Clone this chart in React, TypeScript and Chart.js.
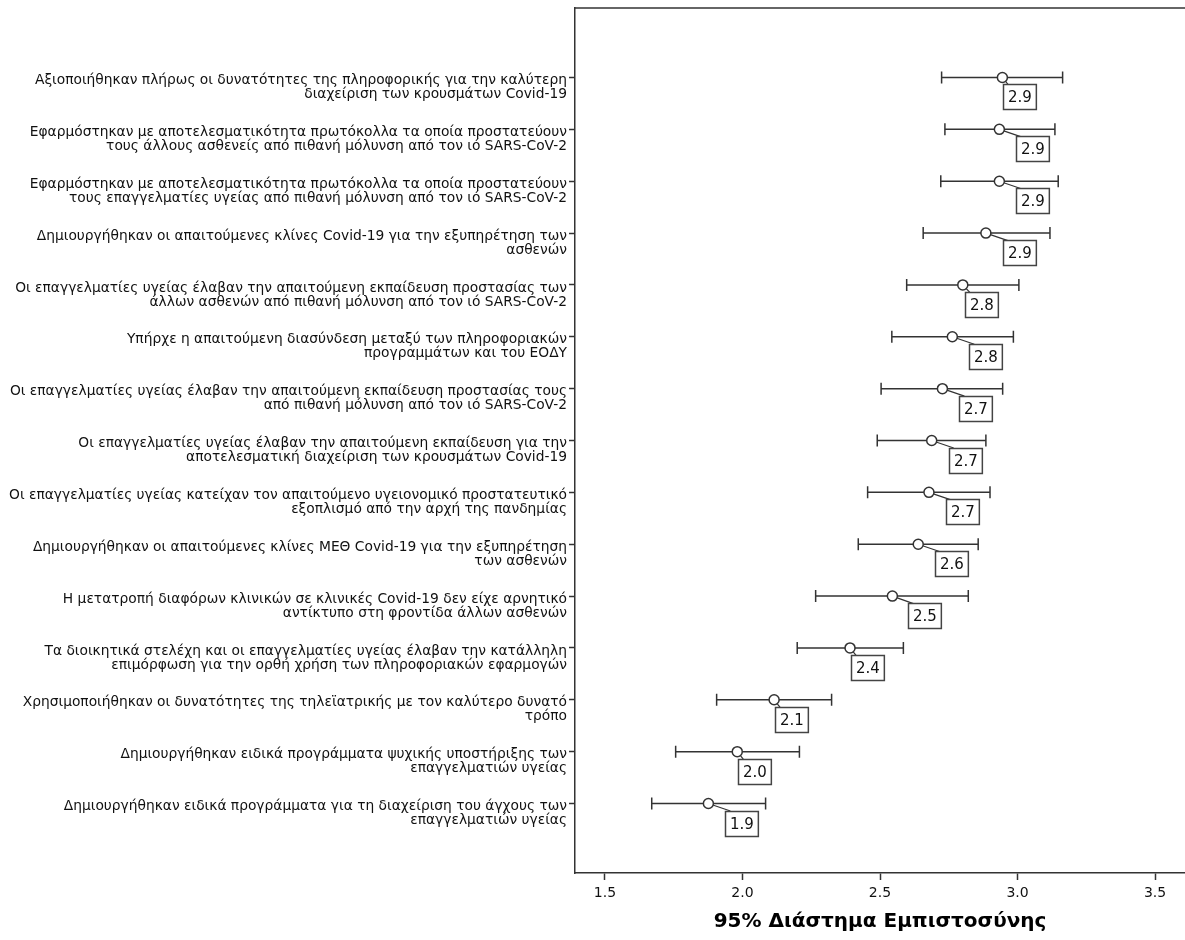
import React, { useEffect, useRef } from "react";
import { Chart, registerables } from "chart.js";

Chart.register(...registerables);

// ---- data (top to bottom) ----
const statements: string[][] = [
  ["Αξιοποιήθηκαν πλήρως οι δυνατότητες της πληροφορικής για την καλύτερη", "διαχείριση των κρουσμάτων Covid-19"],
  ["Εφαρμόστηκαν με αποτελεσματικότητα πρωτόκολλα τα οποία προστατεύουν", "τους άλλους ασθενείς από πιθανή μόλυνση από τον ιό SARS-CoV-2"],
  ["Εφαρμόστηκαν με αποτελεσματικότητα πρωτόκολλα τα οποία προστατεύουν", "τους επαγγελματίες υγείας από πιθανή μόλυνση από τον ιό SARS-CoV-2"],
  ["Δημιουργήθηκαν οι απαιτούμενες κλίνες Covid-19 για την εξυπηρέτηση των", "ασθενών"],
  ["Οι επαγγελματίες υγείας έλαβαν την απαιτούμενη εκπαίδευση προστασίας των", "άλλων ασθενών από πιθανή μόλυνση από τον ιό SARS-CoV-2"],
  ["Υπήρχε η απαιτούμενη διασύνδεση μεταξύ των πληροφοριακών", "προγραμμάτων και του ΕΟΔΥ"],
  ["Οι επαγγελματίες υγείας έλαβαν την απαιτούμενη εκπαίδευση προστασίας τους", "από πιθανή μόλυνση από τον ιό SARS-CoV-2"],
  ["Οι επαγγελματίες υγείας έλαβαν την απαιτούμενη εκπαίδευση για την", "αποτελεσματική διαχείριση των κρουσμάτων Covid-19"],
  ["Οι επαγγελματίες υγείας κατείχαν τον απαιτούμενο υγειονομικό προστατευτικό", "εξοπλισμό από την αρχή της πανδημίας"],
  ["Δημιουργήθηκαν οι απαιτούμενες κλίνες ΜΕΘ Covid-19 για την εξυπηρέτηση", "των ασθενών"],
  ["Η μετατροπή διαφόρων κλινικών σε κλινικές Covid-19 δεν είχε αρνητικό", "αντίκτυπο στη φροντίδα άλλων ασθενών"],
  ["Τα διοικητικά στελέχη και οι επαγγελματίες υγείας έλαβαν την κατάλληλη", "επιμόρφωση για την ορθή χρήση των πληροφοριακών εφαρμογών"],
  ["Χρησιμοποιήθηκαν οι δυνατότητες της τηλεϊατρικής με τον καλύτερο δυνατό", "τρόπο"],
  ["Δημιουργήθηκαν ειδικά προγράμματα ψυχικής υποστήριξης των", "επαγγελματιών υγείας"],
  ["Δημιουργήθηκαν ειδικά προγράμματα για τη διαχείριση του άγχους των", "επαγγελματιών υγείας"],
];

const means = [2.945, 2.934, 2.934, 2.885, 2.801, 2.763, 2.727, 2.688, 2.678, 2.639, 2.545, 2.391, 2.115, 1.981, 1.876];
const lowerCI = [2.724, 2.736, 2.721, 2.657, 2.597, 2.543, 2.504, 2.49, 2.455, 2.421, 2.266, 2.199, 1.906, 1.757, 1.67];
const upperCI = [3.164, 3.136, 3.148, 3.118, 3.005, 2.985, 2.946, 2.885, 2.9, 2.857, 2.821, 2.585, 2.324, 2.207, 2.084];
const meanLabels = ["2.9", "2.9", "2.9", "2.9", "2.8", "2.8", "2.7", "2.7", "2.7", "2.6", "2.5", "2.4", "2.1", "2.0", "1.9"];

const xTickValues = [1.5, 2.0, 2.5, 3.0, 3.5];
const xAxisTitle = "95% Διάστημα Εμπιστοσύνης";

// ---- styling ----
const labelShift = [1, 17, 17, 17, 2, 17, 17, 17, 17, 17, 16, 1, 1, 1, 17];
const FONT = "'DejaVu Sans', sans-serif";
const INK = "#333333";

export default function App() {
  const ref = useRef<HTMLCanvasElement>(null);

  useEffect(() => {
    const canvas = ref.current!;
    const rows = statements.map((_, i) => i + 1);

    const ciPlugin = {
      id: "ciBars",
      beforeDatasetsDraw(chart: any) {
        const { ctx, scales } = chart;
        const xs = scales.x;
        const ys = scales.y;
        ctx.save();
        ctx.strokeStyle = INK;
        ctx.lineWidth = 1.5;
        rows.forEach((r, i) => {
          const py = ys.getPixelForValue(r);
          const x0 = xs.getPixelForValue(lowerCI[i]);
          const x1 = xs.getPixelForValue(upperCI[i]);
          ctx.beginPath();
          ctx.moveTo(x0, py);
          ctx.lineTo(x1, py);
          ctx.moveTo(x0, py - 6);
          ctx.lineTo(x0, py + 6);
          ctx.moveTo(x1, py - 6);
          ctx.lineTo(x1, py + 6);
          ctx.stroke();
          const cx = xs.getPixelForValue(means[i]);
          const bx = cx + labelShift[i];
          const by = py + 7;
          ctx.beginPath();
          ctx.lineWidth = 1.2;
          ctx.moveTo(cx, py);
          ctx.lineTo(bx + 5, by + 0.5);
          ctx.stroke();
          ctx.lineWidth = 1.5;
        });
        ctx.restore();
      },
      afterDatasetsDraw(chart: any) {
        const { ctx, scales } = chart;
        const xs = scales.x;
        const ys = scales.y;
        ctx.save();
        ctx.font = `15px ${FONT}`;
        ctx.textAlign = "center";
        ctx.textBaseline = "middle";
        rows.forEach((r, i) => {
          const py = ys.getPixelForValue(r);
          const cx = xs.getPixelForValue(means[i]);
          const bx = Math.round(cx + labelShift[i]) + 0.5;
          const by = Math.round(py + 7) + 0.5;
          const w = ctx.measureText(meanLabels[i]).width + 9;
          const h = 25;
          ctx.fillStyle = "#ffffff";
          ctx.fillRect(bx, by, w, h);
          ctx.strokeStyle = "#444444";
          ctx.lineWidth = 1.5;
          ctx.strokeRect(bx, by, w, h);
          ctx.fillStyle = "#111111";
          ctx.fillText(meanLabels[i], bx + w / 2, by + h / 2 + 1);
        });
        ctx.restore();
      },
      afterDraw(chart: any) {
        const { ctx, chartArea } = chart;
        ctx.save();
        ctx.strokeStyle = INK;
        ctx.lineWidth = 1.5;
        ctx.beginPath();
        ctx.moveTo(chartArea.left, chartArea.top);
        ctx.lineTo(chartArea.right, chartArea.top);
        ctx.stroke();
        ctx.restore();
      },
    };

    const chart = new Chart(canvas, {
      type: "scatter",
      data: {
        datasets: [
          {
            data: means.map((m, i) => ({ x: m, y: i + 1 })),
            pointRadius: 5,
            pointBorderWidth: 1.5,
            pointBorderColor: INK,
            pointBackgroundColor: "#ffffff",
            showLine: false,
            clip: false,
          },
        ],
      },
      options: {
        animation: false,
        responsive: false,
        devicePixelRatio: 1,
        events: [],
        layout: { autoPadding: false, padding: { top: 8, left: 0, right: 0, bottom: 0 } },
        plugins: { legend: { display: false }, tooltip: { enabled: false } },
        scales: {
          x: {
            type: "linear",
            min: 1.391,
            max: 3.609,
            afterBuildTicks: (s: any) => {
              s.ticks = xTickValues.map((v) => ({ value: v }));
            },
            afterFit: (s: any) => {
              s.height = 67;
              s.paddingLeft = 0;
              s.paddingRight = 0;
            },
            ticks: {
              callback: (v: any) => Number(v).toFixed(1),
              font: { family: FONT, size: 14 },
              color: "#111111",
              padding: 5,
              maxRotation: 0,
            },
            grid: { drawOnChartArea: false, tickLength: 7, tickColor: INK, tickWidth: 1.5 },
            border: { display: true, color: INK, width: 1.5 },
            title: {
              display: true,
              text: xAxisTitle,
              font: { family: FONT, size: 20, weight: "bold" },
              color: "#000000",
              padding: { top: 6, bottom: 6 },
            },
          },
          y: {
            type: "linear",
            min: -0.34,
            max: 16.34,
            reverse: true,
            afterBuildTicks: (s: any) => {
              s.ticks = rows.map((v) => ({ value: v }));
            },
            afterFit: (s: any) => {
              s.width = 575;
              s.paddingTop = 0;
              s.paddingBottom = 0;
            },
            ticks: {
              autoSkip: false,
              callback: (v: any) => statements[Number(v) - 1] ?? "",
              font: { family: FONT, size: 13.8, lineHeight: "14px" },
              color: "#111111",
              padding: 2,
              labelOffset: 10,
            },
            grid: { drawOnChartArea: false, tickLength: 6, tickColor: INK, tickWidth: 1.5 },
            border: { display: true, color: INK, width: 1.5 },
          },
        },
      },
      plugins: [ciPlugin],
    } as any);

    return () => chart.destroy();
  }, []);

  return (
    <div style={{ position: "fixed", left: 0, top: 0, width: 1185, height: 940, background: "#fff" }}>
      <canvas ref={ref} width={1185} height={940} />
    </div>
  );
}
